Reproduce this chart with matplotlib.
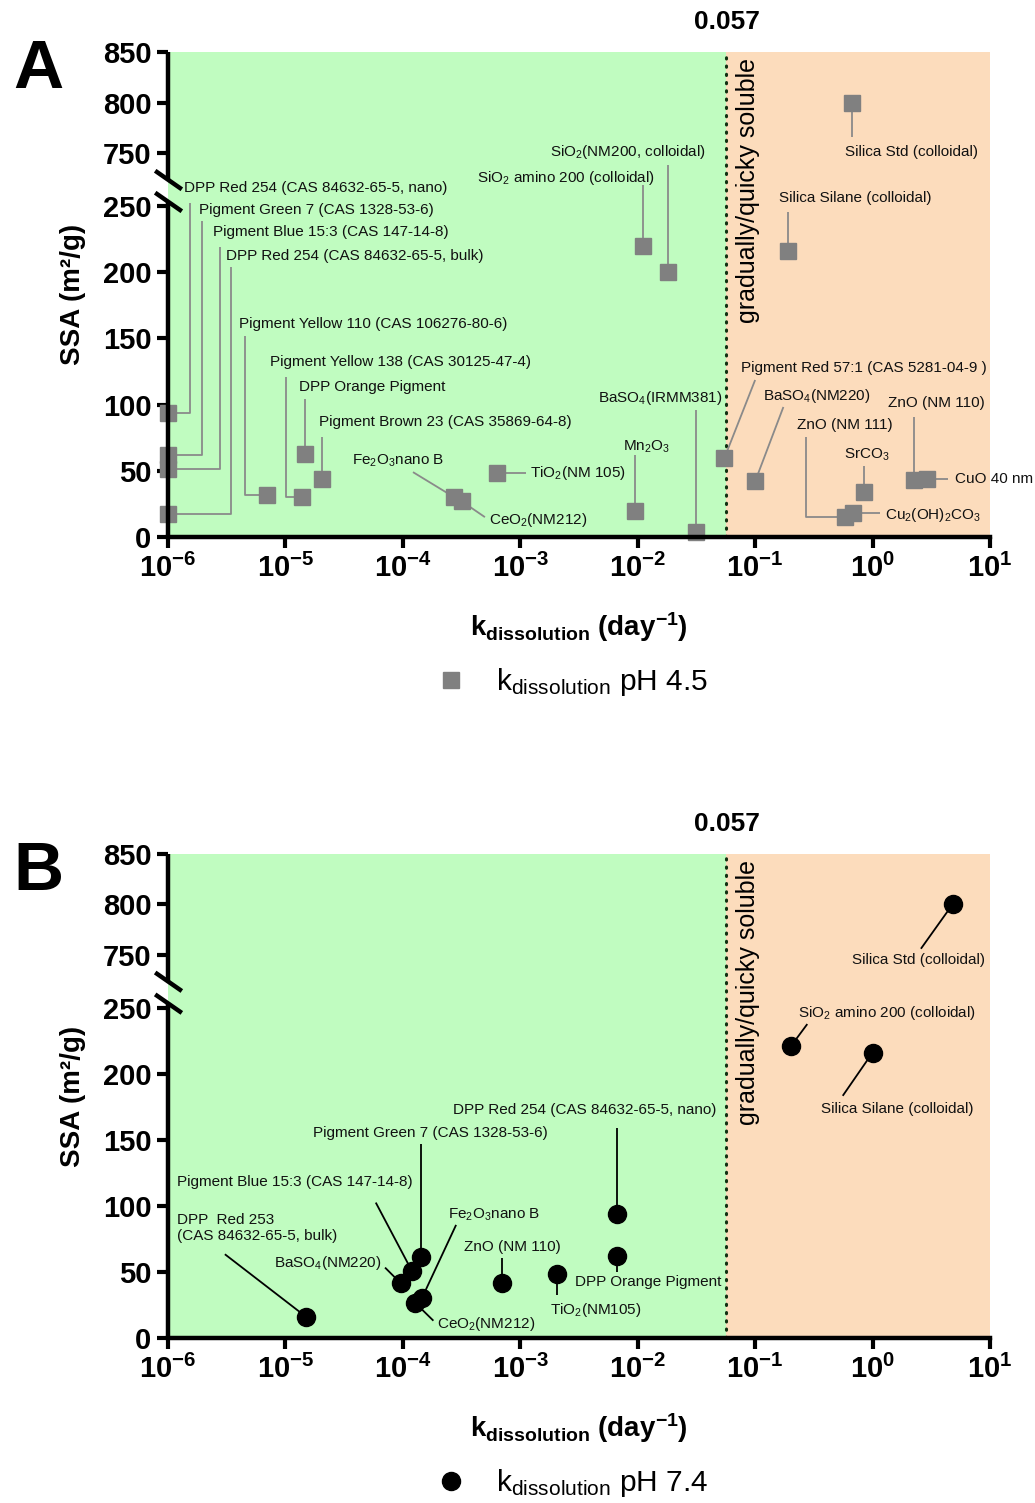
import numpy as np
import matplotlib
matplotlib.use("Agg")
import matplotlib.pyplot as plt
from matplotlib.ticker import FixedLocator, NullLocator

plt.rcParams['font.family'] = ['Liberation Sans', 'DejaVu Sans']
plt.rcParams['mathtext.fontset'] = 'custom'
plt.rcParams['mathtext.rm'] = 'Liberation Sans'
plt.rcParams['mathtext.it'] = 'Liberation Sans:italic'
plt.rcParams['mathtext.bf'] = 'Liberation Sans:bold'

# ---- data: panel A (pH 4.5) ----
names_a = ['DPP Red 254 (CAS 84632-65-5, nano)', 'Pigment Green 7 (CAS 1328-53-6)',
           'Pigment Blue 15:3 (CAS 147-14-8)', 'DPP Red 254 (CAS 84632-65-5, bulk)',
           'Pigment Yellow 110 (CAS 106276-80-6)', 'Pigment Yellow 138 (CAS 30125-47-4)',
           'DPP Orange Pigment', 'Pigment Brown 23 (CAS 35869-64-8)',
           'Fe$_2$O$_3$nano B', 'CeO$_2$(NM212)', 'TiO$_2$(NM 105)',
           'SiO$_2$ amino 200 (colloidal)', 'SiO$_2$(NM200, colloidal)', 'BaSO$_4$(IRMM381)',
           'Mn$_2$O$_3$', 'Pigment Red 57:1 (CAS 5281-04-9 )', 'BaSO$_4$(NM220)',
           'Silica Std (colloidal)', 'Silica Silane (colloidal)', 'ZnO (NM 111)',
           'Cu$_2$(OH)$_2$CO$_3$', 'SrCO$_3$', 'ZnO (NM 110)', 'CuO 40 nm']
k_a = [1e-6, 1e-6, 1e-6, 1e-6, 6.9e-6, 1.38e-5, 1.47e-5, 2.06e-5, 2.74e-4, 3.17e-4, 6.3e-4,
       0.0112, 0.018, 0.0312, 0.0095, 0.0546, 0.1, 0.67, 0.191, 0.58, 0.686, 0.845, 2.26, 2.89]
ssa_a = [94, 62, 51, 17, 32, 30, 62.7, 43.8, 30, 27, 48, 220, 200, 3.5, 20, 59.4, 42,
         800, 216, 15, 18, 34, 43, 43.6]

# ---- data: panel B (pH 7.4) ----
names_b = ['DPP  Red 253\n(CAS 84632-65-5, bulk)', 'BaSO$_4$(NM220)',
           'Pigment Blue 15:3 (CAS 147-14-8)', 'Pigment Green 7 (CAS 1328-53-6)',
           'Fe$_2$O$_3$nano B', 'CeO$_2$(NM212)', 'ZnO (NM 110)', 'TiO$_2$(NM105)',
           'DPP Red 254 (CAS 84632-65-5, nano)', 'DPP Orange Pigment',
           'Silica Std (colloidal)', 'SiO$_2$ amino 200 (colloidal)', 'Silica Silane (colloidal)']
k_b = [1.5e-5, 9.6e-5, 1.19e-4, 1.43e-4, 1.45e-4, 1.27e-4, 6.95e-4, 2.04e-3, 6.6e-3, 6.7e-3,
       4.8, 0.201, 1.0]
ssa_b = [16, 41.4, 51, 61.6, 30, 26.7, 42, 48.5, 93.7, 62.3, 800, 220.7, 216]

threshold = 0.057
y_ticks = [0, 50, 100, 150, 200, 250, 750, 800, 850]
x_ticks = [1e-6, 1e-5, 1e-4, 1e-3, 1e-2, 1e-1, 1e0, 1e1]

# label layout: (text x, text y, ha, leader style, leader x, leader y)
# 'elbow' = vertical at leader x then horizontal to point; 'line' = straight to point
# None in leader x / y -> use the point's own coordinate
lay_a = [(1.37e-6, 420, 'left', 'elbow', 1.54e-6, 278),
         (1.84e-6, 247, 'left', 'elbow', 1.95e-6, 239),
         (2.41e-6, 230, 'left', 'elbow', 2.77e-6, 219),
         (3.12e-6, 212, 'left', 'elbow', 3.44e-6, 204),
         (4.03e-6, 161, 'left', 'elbow', 4.53e-6, 152),
         (7.4e-6, 132, 'left', 'elbow', 1.01e-5, 121),
         (1.31e-5, 113, 'left', 'line', None, 104),
         (1.93e-5, 87, 'left', 'line', None, 75.5),
         (3.69e-5, 57.4, 'left', 'line', 1.22e-4, 49),
         (5.42e-4, 12.8, 'left', 'line', 5.0e-4, 15),
         (1.21e-3, 48.3, 'left', 'line', 1.12e-3, None),
         (4.27e-4, 514, 'left', 'line', None, 448),
         (1.79e-3, 751, 'left', 'line', None, 637),
         (0.0523, 105, 'right', 'line', None, 96),
         (0.01178, 68, 'center', 'line', None, 62),
         (0.0753, 128, 'left', 'line', 0.1, 118.6),
         (0.116, 106.5, 'left', 'line', 0.174, 98.2),
         (0.582, 751, 'left', 'line', None, 766),
         (0.16, 325, 'left', 'line', None, 245.5),
         (0.226, 84.6, 'left', 'elbow', 0.2716, 75.5),
         (1.28, 16.6, 'left', 'line', 1.156, None),
         (0.89, 62, 'center', 'line', None, 53.6),
         (1.35, 101, 'left', 'line', None, 90.6),
         (5.03, 43.6, 'left', 'line', 4.39, None)]

lay_b = [(1.19e-6, 83, 'left', 'line', 3.05e-6, 63.4),
         (6.6e-5, 56.8, 'right', 'line', 7.05e-5, 53.3),
         (1.19e-6, 118.4, 'left', 'line', 5.88e-5, 102.5),
         (1.72e-5, 155.3, 'left', 'line', None, 147),
         (2.41e-4, 93.2, 'left', 'line', 2.84e-4, 85.6),
         (1.94e-4, 10.6, 'left', 'line', 1.82e-4, 13.1),
         (8.6e-4, 69.2, 'center', 'line', None, 60.6),
         (1.79e-3, 21.2, 'left', 'line', None, 32.6),
         (0.0465, 172.7, 'right', 'line', None, 159),
         (2.92e-3, 42.7, 'left', 'line', None, 50),
         (0.664, 703, 'left', 'line', 2.58, 756),
         (0.232, 246, 'left', 'line', 0.278, 237.6),
         (0.361, 173.5, 'left', 'line', 0.557, 183.3)]


# broken y axis: 0-250 and 750-850 with a small gap
def fwd(y):
    y = np.asarray(y, float)
    return np.where(y <= 250, y * 1.324,
                    np.where(y < 750, 331 + (y - 250) * 0.106, 384 + (y - 750) * 1.01))


def inv(v):
    v = np.asarray(v, float)
    return np.where(v <= 331, v / 1.324,
                    np.where(v < 384, 250 + (v - 331) / 0.106, 750 + (v - 384) / 1.01))


def panel(ax, k, ssa, names, lay, marker, ms, mcolor, lcolor, leg_label, letter):
    ax.set_xscale('log')
    ax.set_yscale('function', functions=(fwd, inv))
    ax.set_xlim(1e-6, 1e1)
    ax.set_ylim(0, 850)
    ax.axvspan(1e-6, threshold, color='#c0fcc0', zorder=0, lw=0)
    ax.axvspan(threshold, 1e1, color='#fcdcbc', zorder=0, lw=0)
    ax.axvline(threshold, color='#103010', lw=2.2, ls=(0, (0.4, 2.3)),
               dash_capstyle='round', zorder=1)

    for (tx, ty, ha, style, lx, ly), x, y, name in zip(lay, k, ssa, names):
        ax.text(tx, ty, name, ha=ha, va='center', fontsize=11, color='#111111', zorder=4)
        lx = x if lx is None else lx
        ly = y if ly is None else ly
        if style == 'elbow':
            xs, ys = [lx, lx, x], [ly, y, y]
        else:
            xs, ys = [lx, x], [ly, y]
        ax.plot(xs, ys, color=lcolor, lw=1.3, zorder=2, solid_capstyle='butt')

    ax.plot(k, ssa, ls='none', marker=marker, ms=ms, color=mcolor, mec=mcolor,
            clip_on=False, zorder=5, label=leg_label)

    # axes, ticks
    for s in ['top', 'right', 'left']:
        ax.spines[s].set_visible(False)
    ax.spines['bottom'].set_linewidth(3.2)
    ax.spines['bottom'].set_zorder(6)
    ax.xaxis.set_major_locator(FixedLocator(x_ticks))
    ax.xaxis.set_minor_locator(NullLocator())
    ax.set_xticklabels([r'$\mathbf{10^{%d}}$' % int(np.log10(t)) for t in x_ticks])
    ax.yaxis.set_major_locator(FixedLocator(y_ticks))
    ax.yaxis.set_minor_locator(NullLocator())
    ax.set_yticklabels([str(t) for t in y_ticks], fontweight='bold')
    ax.tick_params(axis='both', direction='out', length=8, width=3, labelsize=21, pad=4)

    # left spine in two pieces + break marks
    ytr = ax.get_yaxis_transform()
    ax.plot([0, 0], [0, 288], transform=ytr, color='k', lw=3.2, clip_on=False,
            solid_capstyle='butt', zorder=6)
    ax.plot([0, 0], [495, 850], transform=ytr, color='k', lw=3.2, clip_on=False,
            solid_capstyle='butt', zorder=6)
    h = float(fwd(850))
    for v in (288, 495):
        yc = float(fwd(v)) / h
        ax.plot([-11 / 822, 12 / 822], [yc + 8 / 485, yc - 8 / 485], transform=ax.transAxes,
                color='k', lw=3.2, clip_on=False, zorder=7)

    ax.set_ylabel('SSA (m²/g)', fontsize=20, fontweight='bold', labelpad=12)
    ax.set_xlabel(r'$\mathbf{k_{dissolution}\ (day^{-1})}$', fontsize=20, labelpad=20)

    xtr = ax.get_xaxis_transform()
    ax.text(threshold, 1.062, '0.057', transform=xtr, ha='center', va='center',
            fontsize=19, fontweight='bold')
    ax.text(0.087, 0.988, 'gradually/quicky soluble', transform=xtr, rotation=90,
            ha='center', va='top', fontsize=18)

    ax.legend(loc='center', bbox_to_anchor=(0.49, -0.30), frameon=False, fontsize=21.5,
              handletextpad=0.9, handlelength=1.2)
    bb = ax.get_position()
    fig.text(38 / 1035, bb.y1 - 18 / 1503, letter, fontsize=50, fontweight='bold',
             ha='center', va='center')


fig = plt.figure(figsize=(10.35, 15.03), dpi=100)
ax_a = fig.add_axes([168 / 1035, 1 - 537 / 1503, 822 / 1035, 485 / 1503])
ax_b = fig.add_axes([168 / 1035, 1 - 1338 / 1503, 822 / 1035, 484 / 1503])

panel(ax_a, k_a, ssa_a, names_a, lay_a, 's', 12, '#808080', '#8a8a8a',
      'k$_{\\mathrm{dissolution}}$ pH 4.5', 'A')
panel(ax_b, k_b, ssa_b, names_b, lay_b, 'o', 13, 'black', 'black',
      'k$_{\\mathrm{dissolution}}$ pH 7.4', 'B')

fig.savefig('out.png', dpi=100)
